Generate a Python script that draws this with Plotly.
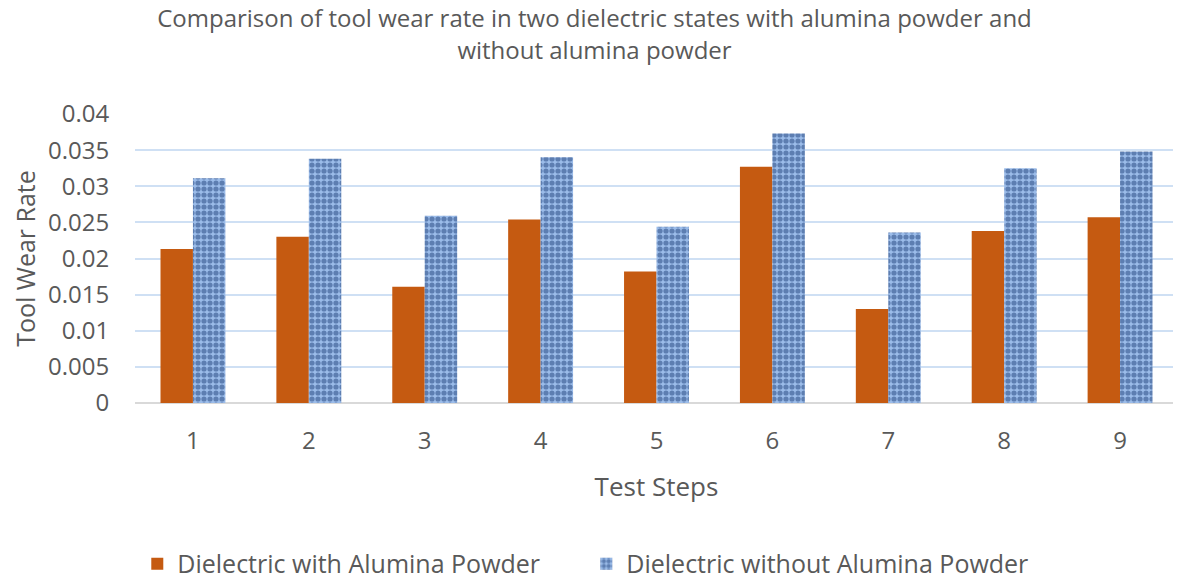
import plotly.graph_objects as go

steps = ["1", "2", "3", "4", "5", "6", "7", "8", "9"]
with_alumina = [0.0213, 0.0230, 0.0161, 0.0254, 0.0182, 0.0327, 0.0130, 0.0238, 0.0257]
without_alumina = [0.0311, 0.0338, 0.0259, 0.0340, 0.0244, 0.0373, 0.0236, 0.0325, 0.0348]
y_ticks = [0, 0.005, 0.01, 0.015, 0.02, 0.025, 0.03, 0.035, 0.04]
y_tick_text = ["0", "0.005", "0.01", "0.015", "0.02", "0.025", "0.03", "0.035", "0.04"]

grey = "#595959"
font_family = "Open Sans, Liberation Sans, sans-serif"

fig = go.Figure()
fig.add_trace(go.Bar(
    x=steps, y=with_alumina, name="Dielectric with Alumina Powder",
    marker=dict(color="#C55A11", line=dict(width=0)),
))
fig.add_trace(go.Bar(
    x=steps, y=without_alumina, name="Dielectric without Alumina Powder",
    marker=dict(
        color="#9BBCE9", line=dict(width=0),
        pattern=dict(shape=".", fgcolor="#1F3F7A", bgcolor="#9BBCE9",
                     size=6, solidity=0.6),
    ),
))

# page body has an 8px margin, so the figure is a bit smaller than the window
fig.update_layout(
    width=1173, height=573,
    barmode="group", bargap=0.44, bargroupgap=0,
    plot_bgcolor="white", paper_bgcolor="white",
    font=dict(family=font_family, color=grey),
    margin=dict(l=127, r=3, t=106, b=178),
    title=dict(
        text="Comparison of tool wear rate in two dielectric states with alumina powder and<br>without alumina powder",
        x=0.5, xref="container", xanchor="center",
        y=0.966, yref="container", yanchor="top",
        font=dict(size=24, color=grey),
    ),
    legend=dict(
        orientation="h", xref="container", yref="container",
        x=0.493, xanchor="center", y=0.07, yanchor="top",
        font=dict(size=25, color=grey),
        entrywidth=404, entrywidthmode="pixels",
    ),
)
fig.update_yaxes(
    range=[0, 0.04], tickvals=y_ticks, ticktext=y_tick_text,
    showgrid=True, gridcolor="#CFE0F4", gridwidth=2,
    zeroline=True, zerolinecolor="#D9D9D9", zerolinewidth=2,
    showline=False,
    tickfont=dict(size=24, color=grey),
    ticks="outside", ticklen=20, tickcolor="rgba(0,0,0,0)",
    title=dict(text="Tool Wear Rate", font=dict(size=25, color=grey), standoff=15),
)
fig.update_xaxes(
    showgrid=False, showline=False,
    tickfont=dict(size=24, color=grey),
    ticks="outside", ticklen=16, tickcolor="rgba(0,0,0,0)",
    title=dict(text="Test Steps", font=dict(size=26, color=grey), standoff=23),
)

fig.write_html("out.html")
